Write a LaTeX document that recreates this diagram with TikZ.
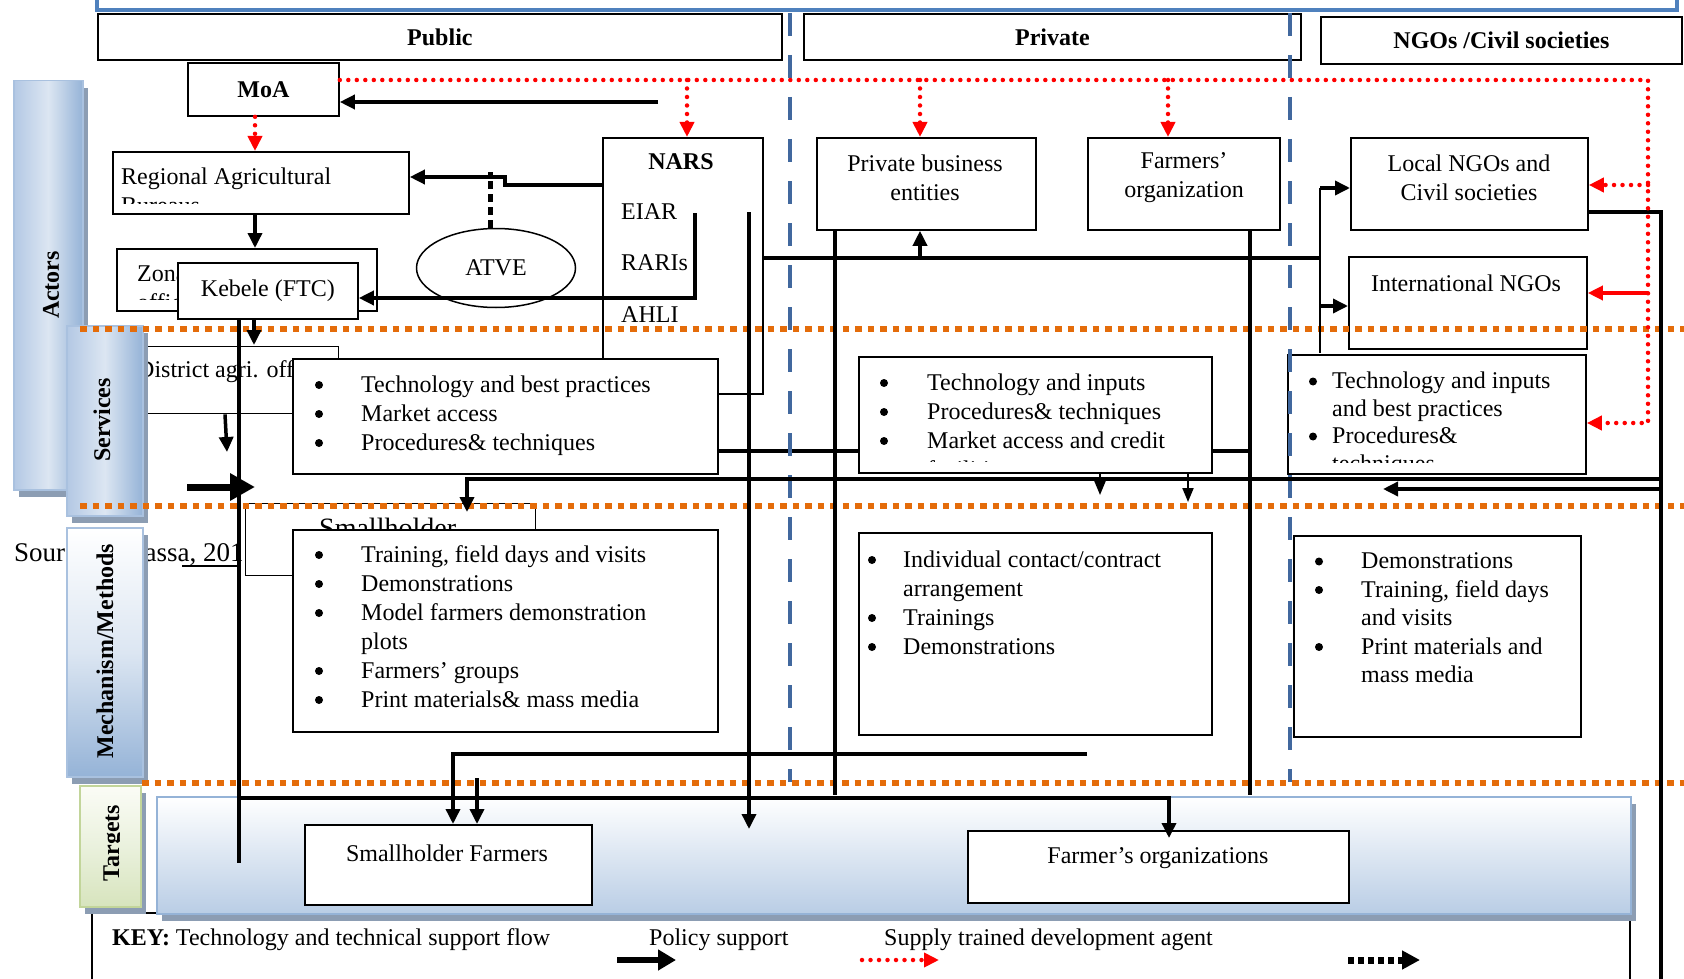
\documentclass[tikz,border=0pt]{standalone}
\usepackage{fontspec}
\setmainfont{Liberation Serif}
\usetikzlibrary{arrows.meta,shapes.geometric,shadows}

\definecolor{frameblue}{HTML}{4F81BD}
\definecolor{lineblue}{HTML}{41689E}
\definecolor{lineorange}{HTML}{E46C0A}
\definecolor{barlight}{HTML}{DCE6F2}
\definecolor{barmid}{HTML}{B3C8E4}
\definecolor{bardark}{HTML}{95B3D7}
\definecolor{baredge}{HTML}{A9C1DF}
\definecolor{barshadow}{HTML}{8C9DB3}
\definecolor{greenlight}{HTML}{FBFCF6}
\definecolor{greenmid}{HTML}{EAF1DD}
\definecolor{greendark}{HTML}{D7E4BD}
\definecolor{greenedge}{HTML}{C2D59A}
\definecolor{panelblue}{HTML}{B9CDE5}

\newcommand{\mainsize}{\fontsize{24}{29}\selectfont}

\tikzset{
  box/.style={draw, line width=1.8pt, fill=white, inner sep=0pt, anchor=north west},
  thinbox/.style={box, line width=1.4pt},
  txt/.style={inner sep=0pt, anchor=base west},
  ctxt/.style={inner sep=0pt, align=center},
  bul/.style={circle, fill, inner sep=0pt, minimum size=8pt},
  flow/.style={line width=3.5pt},
  arrowhd/.style={-{Triangle[length=15pt,width=14pt]}},
  smallhd/.style={-{Triangle[length=14pt,width=11pt]}},
  supply/.style={red, line width=4.5pt, line cap=round, dash pattern=on 0pt off 8.5pt},
  policy/.style={line width=5pt, dash pattern=on 8pt off 5pt},
  zoneline/.style={lineorange, line width=5.5pt, dash pattern=on 6.5pt off 6pt},
  sectorline/.style={lineblue, line width=4pt, dash pattern=on 23pt off 19pt},
  sidebar/.style={draw=baredge, line width=1.5pt, inner sep=0pt, anchor=north west,
    left color=barmid, right color=bardark, middle color=barlight,
    drop shadow={shadow xshift=5pt, shadow yshift=-7pt, fill=barshadow, opacity=1}},
  barlabel/.style={rotate=90, font=\mainsize\bfseries, inner sep=0pt},
}

\begin{document}
\begin{tikzpicture}[x=1pt,y=-1pt,font=\mainsize]
\useasboundingbox (0,0) rectangle (1684,979);

% outer frame, key frame and target panel
\draw[frameblue, line width=4.5pt] (97,-40) rectangle (1677,10);
\draw[line width=1.8pt] (92,990) -- (92,913) -- (1630,913) -- (1630,990);
\node[draw=bardark, line width=2pt, inner sep=0pt, anchor=north west,
  minimum width=1474pt, minimum height=117pt, top color=white, bottom color=panelblue,
  drop shadow={shadow xshift=5pt, shadow yshift=-7pt, fill=barshadow, opacity=1}]
  (panel) at (156,796) {};

% district office and source line (partly hidden by the side bars)
\node[thinbox, minimum width=218pt, minimum height=67pt] (district) at (120,346) {};
\begin{scope}
  \clip (120,346) rectangle (292,413);
  \node[txt] (districttx) at (137,377) {District agri. office};
\end{scope}
\node[txt, font=\fontsize{27}{32}\selectfont] (source) at (14,561) {Source: Getassa, 2015};
\draw[line width=2pt] (182,566) -- (239,566);

% side bars
\node[sidebar, minimum width=69pt, minimum height=409pt] (actors) at (13,80) {};
\node[barlabel] (actorstx) at (51,285) {Actors};
\node[sidebar, minimum width=76pt, minimum height=190pt] (services) at (66,325) {};
\node[barlabel] (servicestx) at (102,420) {Services};
\node[sidebar, top color=white, bottom color=bardark, middle color=barlight,
  minimum width=76pt, minimum height=249pt] (methods) at (66,527) {};
\node[barlabel] (methodstx) at (105,651) {Mechanism/Methods};
\node[sidebar, draw=greenedge, top color=greenlight, bottom color=greendark, middle color=greenmid,
  minimum width=61pt, minimum height=121pt] (targets) at (79,785) {};
\begin{scope}
  \clip (79,785) rectangle (119,906);
  \node[barlabel] (targetstx) at (114,843) {Targets};
\end{scope}

% column headers
\node[box, minimum width=684pt, minimum height=46pt] (public) at (97,13) {\textbf{Public}};
\node[box, minimum width=497pt, minimum height=46pt] (private) at (803,13) {\textbf{Private}};
\node[box, minimum width=361pt, minimum height=47pt] (ngos) at (1320,16) {\textbf{NGOs /Civil societies}};

% actors
\node[box, minimum width=151pt, minimum height=53pt] (moa) at (187,62) {\textbf{MoA}};
\node[box, minimum width=296pt, minimum height=62pt] (regional) at (112,151) {};
\begin{scope}
  \clip (112,151) rectangle (408,203);
  \node[txt] (regionaltx) at (121,184) {Regional Agricultural};
  \node[txt] (regionaltxb) at (121,213) {Bureaus};
\end{scope}
\node[box, minimum width=260pt, minimum height=62pt] (zonal) at (116,248) {};
\begin{scope}
  \clip (116,248) rectangle (376,299);
  \node[txt] (zonaltx) at (137,281) {Zonal};
  \node[txt] (zonaltxb) at (137,310) {offices};
\end{scope}
\node[box, minimum width=180pt, minimum height=56pt] (kebele) at (177,262) {Kebele (FTC)};
\node[box, ellipse, line width=1.5pt, anchor=center, minimum width=159pt, minimum height=79pt] (atve) at (496,268) {ATVE};

\node[box, minimum width=160pt, minimum height=256pt] (nars) at (602,137) {};
\node[inner sep=0pt] (narstx) at (681,162) {\textbf{NARS}};
\node[txt] (eiar) at (621,219) {EIAR};
\node[txt] (raris) at (621,270) {RARIs};
\node[txt] (ahli) at (621,322) {AHLI};

\node[box, minimum width=219pt, minimum height=92pt] (pbe) at (816,137) {};
\node[ctxt] (pbetx) at (925,178) {Private business\\entities};
\node[box, minimum width=192pt, minimum height=92pt] (fo) at (1087,137) {};
\node[ctxt] (fotx) at (1184,178) {Farmers’\\organization};
\node[box, minimum width=237pt, minimum height=92pt] (lngo) at (1350,137) {};
\node[ctxt] (lngotx) at (1469,178) {Local NGOs and\\Civil societies};
\node[box, minimum width=238pt, minimum height=92pt] (ingo) at (1348,256) {};
\node[ctxt] (ingotx) at (1466,283) {International NGOs};

% services
\node[box, minimum width=425pt, minimum height=115pt] (pubsv) at (292,358) {};
\foreach \itm [count=\i] in {Technology and best practices, Market access, Procedures\& techniques}{
  \node[bul] (pubsvb\i) at (319,{356+29*\i}) {};
  \node[txt] (pubsvt\i) at (361,{363+29*\i}) {\itm};
}
\draw[flow] (pubsv.east |- 0,451) -- (1250,451);

\node[box, minimum width=353pt, minimum height=116pt] (prvsv) at (858,356) {};
\begin{scope}
  \clip (858,356) rectangle (1211,461);
  \foreach \itm [count=\i] in {Technology and inputs, Procedures\& techniques, Market access and credit, facilities}
    \node[txt] (prvsvt\i) at (927,{361+29*\i}) {\itm};
  \foreach \i in {1,2,3}
    \node[bul] (prvsvb\i) at (884,{354+29*\i}) {};
\end{scope}

\node[box, minimum width=298pt, minimum height=119pt] (ngosv) at (1287,354) {};
\begin{scope}
  \clip (1287,354) rectangle (1585,462);
  \foreach \itm [count=\i] in {Technology and inputs, and best practices, Procedures\&, techniques}
    \node[txt] (ngosvt\i) at (1332,{361+27.5*\i}) {\itm};
  \foreach \i in {1,3}
    \node[bul] (ngosvb\i) at (1313,{354+27.5*\i}) {};
\end{scope}

% mechanisms / methods
\node[thinbox, minimum width=290pt, minimum height=72pt] (smallbox) at (245,503) {};
\node[txt, font=\fontsize{28}{32}\selectfont] (smalltx) at (319,537) {Smallholder};

\node[box, minimum width=425pt, minimum height=202pt] (pubmt) at (292,529) {};
\foreach \itm [count=\i] in {Training{,} field days and visits, Demonstrations, Model farmers demonstration,
    plots, Farmers’ groups, Print materials\& mass media}
  \node[txt] (pubmtt\i) at (361,{533+29*\i}) {\itm};
\foreach \i in {1,2,3,5,6}
  \node[bul] (pubmtb\i) at (319,{526+29*\i}) {};

\node[box, minimum width=353pt, minimum height=202pt] (prvmt) at (858,532) {};
\foreach \itm [count=\i] in {Individual contact/contract, arrangement, Trainings, Demonstrations}
  \node[txt] (prvmtt\i) at (903,{538+29*\i}) {\itm};
\foreach \i in {1,3,4}
  \node[bul] (prvmtb\i) at (872,{531+29*\i}) {};

\node[box, minimum width=287pt, minimum height=201pt] (ngomt) at (1293,535) {};
\foreach \itm [count=\i] in {Demonstrations, Training{,} field days, and visits, Print materials and, mass media}
  \node[txt] (ngomtt\i) at (1361,{540+28.5*\i}) {\itm};
\foreach \i in {1,2,4}
  \node[bul] (ngomtb\i) at (1319,{533+28.5*\i}) {};

% targets
\node[box, minimum width=287pt, minimum height=80pt] (sfarm) at (304,824) {};
\node[ctxt] (sfarmtx) at (447,853) {Smallholder Farmers};
\node[box, minimum width=381pt, minimum height=72pt] (forg) at (967,830) {};
\node[ctxt] (forgtx) at (1158,858) {Farmer’s organizations};

% row and sector separators
\draw[zoneline] (80,329) -- (1684,329);
\draw[zoneline] (80,506) -- (1684,506);
\draw[zoneline] (142,783) -- (1684,783);
\draw[sectorline] (790,13) -- (790,782);
\draw[sectorline] (1290,13) -- (1290,782);

% free ends of the connectors
\coordinate (moafeed) at (658,102);
\coordinate (atvestem) at (490,172);
\coordinate (eiarbar) at (695,213);
\coordinate (narsbar) at (749,212);
\coordinate (narsdrop) at (749,829);
\coordinate (bus) at (1320,258);
\coordinate (ngobus) at (1661,212);
\coordinate (ngoend) at (1661,990);
\coordinate (pbedrop) at (835,795);
\coordinate (fodrop) at (1250,795);
\coordinate (kebdrop) at (239,863);
\coordinate (dstdrop) at (227,452);
\coordinate (bigarrow) at (187,487);
\coordinate (srvbus) at (1661,479);
\coordinate (srvret) at (1383,489);
\coordinate (redcorner) at (1648,80);
\coordinate (redend) at (1648,423);
\coordinate (mtbus) at (1087,754);
\coordinate (mtstem) at (477,778);
\coordinate (tgbus) at (239,798);

% technology and policy flows
\draw[flow, arrowhd] (moafeed) -- (moa.east |- moafeed);
\draw[flow, arrowhd] (nars.west |- 0,185) -| (505,177) -- (regional.east |- 0,177);
\draw[policy] (atve.north -| atvestem) -- (atvestem);
\draw[flow, arrowhd] (regional.south -| 255,0) -- (zonal.north -| 255,0);
\draw[flow, arrowhd] (eiarbar) |- (kebele.east |- 0,298);
\draw[flow, arrowhd] (narsbar) -- (narsdrop);
\draw[flow] (nars.east |- bus) -- (bus);
\draw[flow, arrowhd] (920,258) -- (pbe.south -| 920,0);
\draw[line width=2pt] (1320,188) -- (1320,353);
\draw[flow, arrowhd] (1320,188) -- (lngo.west |- 0,188);
\draw[flow, arrowhd] (1320,306) -- (ingo.west |- 0,306);
\draw[flow] (lngo.east |- ngobus) -- (ngobus) -- (ngoend);
\draw[flow] (pbe.south -| pbedrop) -- (pbedrop);
\draw[flow] (fo.south -| fodrop) -- (fodrop);

\draw[flow] (kebele.south -| kebdrop) -- (kebdrop);
\draw[flow, arrowhd] (kebele.south -| 254,0) -- (254,345);
\draw[flow, arrowhd] (district.south -| 225,0) -- (dstdrop);
\draw[line width=7pt, -{Triangle[length=25pt,width=26pt]}] (bigarrow) -- (255,487);
\draw[flow, arrowhd] (srvbus) -| (467,512);
\draw[line width=2pt, smallhd] (prvsv.south -| 1100,0) -- (1100,495);
\draw[line width=2pt, smallhd] (prvsv.south -| 1188,0) -- (1188,502);
\draw[flow, arrowhd] (1661,489) -- (srvret);

\draw[flow, arrowhd] (mtbus) -| (sfarm.north -| 453,0);
\draw[flow, arrowhd] (mtstem) -- (sfarm.north -| mtstem);
\draw[flow, arrowhd] (tgbus) -| (1169,838);

% supply of trained development agents
\draw[supply, arrowhd] (moa.east |- redcorner) -- (redcorner) -- (redend) -- (ngosv.east |- redend);
\draw[supply, arrowhd] (687,80) -- (nars.north -| 687,0);
\draw[supply, arrowhd] (920,80) -- (pbe.north -| 920,0);
\draw[supply, arrowhd] (1168,80) -- (fo.north -| 1168,0);
\draw[supply, arrowhd] (moa.south -| 255,0) -- (regional.north -| 255,0);
\draw[supply, arrowhd] (1648,185) -- (lngo.east |- 0,185);
\draw[red, line width=3.5pt, arrowhd] (1648,293) -- (ingo.east |- 0,293);

% key
\node[txt] (keytx) at (112,945) {\textbf{KEY:} Technology and technical support flow};
\node[txt] (policytx) at (649,945) {Policy support};
\node[txt] (supplytx) at (884,945) {Supply trained development agent};
\coordinate (keya) at (617,960);
\coordinate (keyb) at (862,960);
\coordinate (keyc) at (1348,960);
\draw[line width=6pt, -{Triangle[length=18pt,width=20pt]}] (keya) -- ++(59,0);
\draw[supply, arrowhd] (keyb) -- ++(77,0);
\draw[line width=7pt, dash pattern=on 6pt off 4pt, -{Triangle[length=18pt,width=18pt]}] (keyc) -- ++(72,0);
\end{tikzpicture}
\end{document}
